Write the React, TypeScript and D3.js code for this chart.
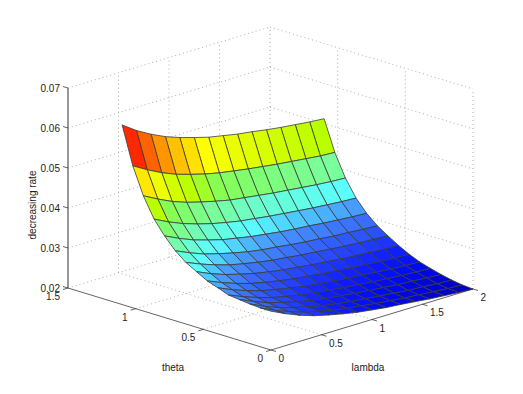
import { useEffect, useRef } from 'react'
import * as d3 from 'd3'

const lambdaGrid = [0, 0.143, 0.286, 0.429, 0.571, 0.714, 0.857, 1, 1.143, 1.286, 1.429, 1.571, 1.714, 1.857, 2]
const thetaGrid = [0, 0.079, 0.157, 0.236, 0.314, 0.393, 0.471, 0.55, 0.629, 0.707, 0.786, 0.864, 0.943, 1.021, 1.1]

// one row per theta, one column per lambda
const rate = [
  [0.0297, 0.0280, 0.0265, 0.0253, 0.0244, 0.0236, 0.0229, 0.0224, 0.0219, 0.0216, 0.0212, 0.0208, 0.0205, 0.0202, 0.0200],
  [0.0297, 0.0280, 0.0266, 0.0254, 0.0245, 0.0237, 0.0231, 0.0226, 0.0221, 0.0217, 0.0213, 0.0210, 0.0207, 0.0204, 0.0202],
  [0.0299, 0.0282, 0.0268, 0.0257, 0.0248, 0.0240, 0.0234, 0.0229, 0.0225, 0.0221, 0.0217, 0.0213, 0.0211, 0.0208, 0.0206],
  [0.0302, 0.0286, 0.0272, 0.0262, 0.0253, 0.0245, 0.0239, 0.0235, 0.0230, 0.0226, 0.0223, 0.0219, 0.0217, 0.0214, 0.0212],
  [0.0305, 0.0290, 0.0277, 0.0266, 0.0258, 0.0251, 0.0245, 0.0241, 0.0236, 0.0233, 0.0229, 0.0226, 0.0223, 0.0221, 0.0219],
  [0.0315, 0.0299, 0.0286, 0.0275, 0.0267, 0.0260, 0.0253, 0.0249, 0.0245, 0.0241, 0.0238, 0.0234, 0.0231, 0.0229, 0.0227],
  [0.0324, 0.0309, 0.0296, 0.0285, 0.0277, 0.0270, 0.0264, 0.0260, 0.0255, 0.0252, 0.0248, 0.0245, 0.0242, 0.0240, 0.0238],
  [0.0339, 0.0323, 0.0310, 0.0300, 0.0291, 0.0284, 0.0278, 0.0274, 0.0269, 0.0266, 0.0262, 0.0259, 0.0256, 0.0254, 0.0252],
  [0.0354, 0.0339, 0.0326, 0.0315, 0.0307, 0.0300, 0.0294, 0.0290, 0.0285, 0.0282, 0.0278, 0.0275, 0.0272, 0.0270, 0.0268],
  [0.0375, 0.0359, 0.0345, 0.0335, 0.0326, 0.0318, 0.0312, 0.0308, 0.0303, 0.0299, 0.0296, 0.0292, 0.0290, 0.0287, 0.0285],
  [0.0404, 0.0387, 0.0372, 0.0361, 0.0351, 0.0344, 0.0337, 0.0332, 0.0327, 0.0323, 0.0320, 0.0316, 0.0313, 0.0310, 0.0308],
  [0.0438, 0.0420, 0.0405, 0.0393, 0.0383, 0.0375, 0.0368, 0.0363, 0.0358, 0.0354, 0.0350, 0.0346, 0.0343, 0.0340, 0.0338],
  [0.0488, 0.0469, 0.0452, 0.0439, 0.0429, 0.0420, 0.0412, 0.0407, 0.0402, 0.0397, 0.0393, 0.0389, 0.0385, 0.0382, 0.0380],
  [0.0555, 0.0534, 0.0516, 0.0501, 0.0490, 0.0480, 0.0472, 0.0466, 0.0460, 0.0455, 0.0450, 0.0446, 0.0442, 0.0438, 0.0436],
  [0.0649, 0.0624, 0.0604, 0.0587, 0.0574, 0.0563, 0.0553, 0.0546, 0.0539, 0.0534, 0.0528, 0.0523, 0.0519, 0.0515, 0.0512],
]

const lambdaTicks = [0, 0.5, 1, 1.5, 2]
const thetaTicks = [0, 0.5, 1, 1.5]
const rateTicks = [0.02, 0.03, 0.04, 0.05, 0.06, 0.07]

const colorStops = [0.02, 0.022, 0.024, 0.026, 0.0285, 0.0308, 0.032, 0.0338, 0.036, 0.038, 0.04, 0.042, 0.0438, 0.0455, 0.048, 0.049, 0.0516, 0.0555]
const colorValues = [
  '#0000be', '#000af0', '#0f1eff', '#2341ff', '#3769ff', '#4696ff', '#4bbeff', '#5affff', '#69ffd2',
  '#78ffa0', '#7dff78', '#87ff50', '#b9ff00', '#d7ff00', '#ffff00', '#ffe100', '#ff9600', '#ff2800',
]

const WIDTH = 523
const HEIGHT = 394

// oblique projection
const xLambda = d3.scaleLinear().domain([0, 2]).range([271, 473])
const xTheta = d3.scaleLinear().domain([0, 1.5]).range([0, -203])
const yLambda = d3.scaleLinear().domain([0, 2]).range([350, 289])
const yTheta = d3.scaleLinear().domain([0, 1.5]).range([0, -62])
const yRate = d3.scaleLinear().domain([0.02, 0.07]).range([0, -200])

const project = (l: number, t: number, z: number): [number, number] => [
  xLambda(l) + xTheta(t),
  yLambda(l) + yTheta(t) + yRate(z),
]

const color = d3.scaleLinear<string>()
  .domain(colorStops)
  .range(colorValues)
  .interpolate(d3.interpolateRgb)
  .clamp(true)

function App() {
  const svgRef = useRef<SVGSVGElement>(null)

  useEffect(() => {
    const svg = d3.select(svgRef.current)
    svg.selectAll('*').remove()
    const line = d3.line()

    const dotted = (a: [number, number], b: [number, number]) => {
      svg.append('path')
        .attr('d', line([a, b]))
        .attr('fill', 'none')
        .attr('stroke', '#8a8a8a')
        .attr('stroke-width', 0.7)
        .attr('stroke-dasharray', '1 3')
    }

    const solid = (a: [number, number], b: [number, number], width = 0.7, stroke = '#222') => {
      svg.append('path')
        .attr('d', line([a, b]))
        .attr('fill', 'none')
        .attr('stroke', stroke)
        .attr('stroke-width', width)
    }

    const label = (x: number, y: number, text: string, anchor: string) =>
      svg.append('text')
        .attr('x', x)
        .attr('y', y)
        .attr('text-anchor', anchor)
        .attr('font-family', 'Liberation Sans, sans-serif')
        .attr('font-size', 10)
        .attr('fill', '#222')
        .text(text)

    // walls
    rateTicks.forEach(z => {
      dotted(project(0, 1.5, z), project(2, 1.5, z))
      dotted(project(2, 1.5, z), project(2, 0, z))
    })
    lambdaTicks.slice(1).forEach(l => {
      dotted(project(l, 1.5, 0.02), project(l, 1.5, 0.07))
      dotted(project(l, 0, 0.02), project(l, 1.5, 0.02))
    })
    thetaTicks.slice(0, 3).forEach(t => {
      dotted(project(2, t, 0.02), project(2, t, 0.07))
      if (t > 0) dotted(project(0, t, 0.02), project(2, t, 0.02))
    })

    // surface, far cells first
    const cells: { i: number; j: number }[] = []
    for (let j = 0; j < thetaGrid.length - 1; j++) {
      for (let i = 0; i < lambdaGrid.length - 1; i++) cells.push({ i, j })
    }
    cells.sort((a, b) => (b.i + b.j) - (a.i + a.j))

    svg.append('g')
      .selectAll('path')
      .data(cells)
      .enter()
      .append('path')
      .attr('d', ({ i, j }) => line([
        project(lambdaGrid[i], thetaGrid[j], rate[j][i]),
        project(lambdaGrid[i + 1], thetaGrid[j], rate[j][i + 1]),
        project(lambdaGrid[i + 1], thetaGrid[j + 1], rate[j + 1][i + 1]),
        project(lambdaGrid[i], thetaGrid[j + 1], rate[j + 1][i]),
      ]) + 'Z')
      .attr('fill', ({ i, j }) => color(rate[j][i]))
      .attr('stroke', '#3a3a3a')
      .attr('stroke-width', 0.8)
      .attr('stroke-linejoin', 'round')

    // axes
    solid(project(0, 1.5, 0.02), project(0, 0, 0.02))
    solid(project(0, 0, 0.02), project(2, 0, 0.02))
    solid(project(0, 1.5, 0.02), project(0, 1.5, 0.07), 1.5, '#777')

    rateTicks.forEach(z => {
      const [x, y] = project(0, 1.5, z)
      solid([x - 5, y - 1.5], [x, y])
      label(x - 8, y + 3.5, z.toFixed(2), 'end')
    })
    thetaTicks.forEach(t => {
      const [x, y] = project(0, t, 0.02)
      solid([x - 5, y + 1.5], [x, y])
      label(x - 8, y + 12, String(t), 'end')
    })
    lambdaTicks.forEach(l => {
      const [x, y] = project(l, 0, 0.02)
      solid([x + 5, y + 1.5], [x, y])
      label(x + 7.5, y + 12, String(l), 'start')
    })

    label(173, 371, 'theta', 'middle')
    label(368, 371, 'lambda', 'middle')
    label(0, 0, 'decreasing rate', 'middle')
      .attr('transform', 'translate(36,205) rotate(-90)')
  }, [])

  return (
    <svg
      ref={svgRef}
      width={WIDTH}
      height={HEIGHT}
      style={{ position: 'absolute', left: 0, top: 0, background: '#fff' }}
    />
  )
}

export default App
